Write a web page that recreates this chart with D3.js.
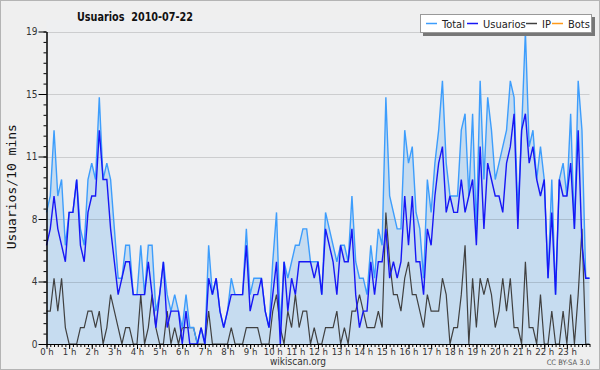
<!DOCTYPE html>
<html>
<head>
<meta charset="utf-8">
<script src="https://cdn.jsdelivr.net/npm/d3@7"></script>
<style>
  body { margin: 0; background: #efefef; }
  svg { display: block; }
  text { font-family: "DejaVu Sans Condensed", "DejaVu Sans", sans-serif; font-stretch: condensed; }
</style>
</head>
<body>
<div id="chart"></div>
<script>
// users per 10 minutes, 2010-07-22, 145 samples (00:00 .. 24:00)
const usuarios = [6,7,9,7,6,5,8,8,10,6,5,8,9,9,13,10,10,7,5,3,4,5,5,3,3,3,3,5,3,1,
  3,5,1,2,2,2,0,2,0,0,0,1,0,4,3,4,2,1,2,3,3,3,3,6,2,3,3,4,2,1,
  3,5,0,5,2,4,3,5,5,5,5,4,5,3,7,6,5,3,6,5,5,7,3,1,2,2,5,3,5,5,
  7,4,5,4,5,9,6,9,5,5,3,7,6,9,11,12,8,9,8,8,10,8,9,10,6,12,7,11,10,9,
  9,8,11,12,14,7,13,14,11,12,10,9,10,4,8,3,10,9,9,11,7,13,6,4,4];
const ip = [2,2,4,2,4,1,0,0,0,1,1,2,2,1,2,0,1,3,2,1,0,1,1,0,0,3,0,1,3,1,
  0,0,2,0,1,0,1,1,1,1,0,0,0,2,0,0,0,0,0,1,0,0,0,1,1,1,1,0,0,0,
  2,3,1,0,2,1,3,1,2,2,0,1,0,0,1,1,1,2,0,1,0,2,2,3,2,1,1,1,2,1,
  8,5,3,3,2,4,5,3,3,2,1,3,2,2,2,4,3,0,1,1,3,6,0,4,1,4,3,4,3,1,
  2,4,2,4,1,1,0,5,1,1,0,3,0,0,2,0,0,2,0,3,0,3,7,0,0];
const total = [8,9,13,9,10,6,8,8,10,7,6,10,11,10,15,10,11,10,7,4,4,6,6,3,3,6,3,6,6,2,
  3,5,3,2,3,2,1,3,1,1,0,1,0,6,3,4,2,1,2,4,3,3,3,7,3,4,4,4,2,1,
  5,8,1,5,4,5,6,6,7,7,5,5,5,3,8,7,6,5,6,6,5,9,5,4,4,3,6,4,7,6,
  15,9,8,7,7,13,11,12,8,7,4,10,8,11,13,16,11,9,9,9,13,14,9,14,7,16,10,15,13,10,
  11,12,13,16,15,8,13,19,12,13,10,12,10,4,10,3,10,11,9,14,7,16,13,4,4];

const hourLabels = d3.range(24).map(h => `${h} h`);
const yTicks = [0, 3.8, 7.6, 11.4, 15.2, 19];
const yTickLabels = ["0", "4", "8", "11", "15", "19"];
const legendNames = ["Total", "Usuarios", "IP", "Bots"];
const legendColors = ["#3d9dfc", "#1717f5", "#404040", "#ff9a1a"];

const width = 600, height = 370;
const plotLeft = 46.5, plotRight = 589.5, plotTop = 31.5, plotBottom = 344;

const x = d3.scaleLinear().domain([0, 144]).range([plotLeft, plotRight]);
const y = d3.scaleLinear().domain([0, 19]).range([plotBottom, plotTop]);

const svg = d3.select("#chart").append("svg")
  .attr("width", width)
  .attr("height", height);

// frame
svg.append("rect")
  .attr("x", 0.5).attr("y", 0.5)
  .attr("width", width - 1).attr("height", height - 1)
  .attr("fill", "#efefef")
  .attr("stroke", "#b4b4b4");

// plot background
svg.append("rect")
  .attr("x", plotLeft).attr("y", 20)
  .attr("width", plotRight - plotLeft).attr("height", plotBottom - 20)
  .attr("fill", "#eeeff1");

// area under total
svg.append("path")
  .datum(total)
  .attr("fill", "#c6dcf0")
  .attr("d", d3.area().x((d, i) => x(i)).y0(y(0)).y1(d => y(d)));

// grid
svg.append("g")
  .selectAll("line")
  .data(yTicks.slice(1))
  .join("line")
  .attr("x1", plotLeft).attr("x2", plotRight)
  .attr("y1", d => Math.round(y(d)) + 0.5)
  .attr("y2", d => Math.round(y(d)) + 0.5)
  .attr("stroke", "rgba(0,0,0,0.14)");

// lines
const line = d3.line().x((d, i) => x(i)).y(d => y(d));
svg.append("path").datum(ip)
  .attr("fill", "none").attr("stroke", legendColors[2]).attr("stroke-width", 1.2)
  .attr("d", line);
svg.append("path").datum(total)
  .attr("fill", "none").attr("stroke", legendColors[0]).attr("stroke-width", 1.4)
  .attr("d", line);
svg.append("path").datum(usuarios)
  .attr("fill", "none").attr("stroke", legendColors[1]).attr("stroke-width", 1.4)
  .attr("d", line);

// y axis
const yAxis = svg.append("g")
  .attr("transform", `translate(${plotLeft},0)`)
  .call(d3.axisLeft(y).tickValues(yTicks).tickFormat((d, i) => yTickLabels[i])
    .tickSize(8).tickSizeOuter(0).tickPadding(1));
svg.append("g")
  .attr("transform", `translate(${plotLeft},0)`)
  .call(d3.axisLeft(y).tickValues(d3.range(31).map(k => k * 19 / 30))
    .tickFormat("").tickSize(3).tickSizeOuter(0));

// x axis
const xAxis = svg.append("g")
  .attr("transform", `translate(0,${plotBottom})`)
  .call(d3.axisBottom(x).tickValues(d3.range(0, 144, 6)).tickFormat((d, i) => hourLabels[i])
    .tickSize(5).tickSizeOuter(0).tickPadding(-1));
svg.append("g")
  .attr("transform", `translate(0,${plotBottom})`)
  .call(d3.axisBottom(x).tickValues(d3.range(145)).tickFormat("").tickSize(3).tickSizeOuter(0));

svg.selectAll(".domain").attr("stroke", "#000");
svg.selectAll(".tick line").attr("stroke", "#000");
svg.selectAll(".tick text")
  .attr("fill", "#333")
  .style("font-size", "10px");
yAxis.selectAll(".tick text").attr("dy", "0.32em");
xAxis.selectAll(".tick text").style("font-size", "9.5px");

// title
svg.append("text")
  .attr("x", 77).attr("y", 21)
  .attr("font-weight", "bold")
  .attr("textLength", 116)
  .attr("lengthAdjust", "spacingAndGlyphs")
  .style("font-size", "12.5px")
  .style("white-space", "pre")
  .attr("fill", "#111")
  .text("Usuarios  2010-07-22");

// y label
svg.append("text")
  .attr("transform", `translate(16,${(plotTop + plotBottom) / 2 - 1}) rotate(-90)`)
  .attr("text-anchor", "middle")
  .style("font-family", "'DejaVu Sans Mono', monospace")
  .style("font-size", "13px")
  .attr("fill", "#111")
  .text("Usuarios/10 mins");

// footer
svg.append("text")
  .attr("x", 298).attr("y", 365)
  .attr("text-anchor", "middle")
  .style("font-size", "10px")
  .attr("fill", "#333")
  .text("wikiscan.org");
svg.append("text")
  .attr("x", 590).attr("y", 365)
  .attr("text-anchor", "end")
  .style("font-size", "7.5px")
  .attr("fill", "#555")
  .text("CC BY-SA 3.0");

// legend
const legend = svg.append("g").attr("transform", "translate(420,14)");
legend.append("rect")
  .attr("x", 3).attr("y", 3).attr("width", 172).attr("height", 19)
  .attr("fill", "#777");
legend.append("rect")
  .attr("x", 0.5).attr("y", 0.5).attr("width", 171).attr("height", 18)
  .attr("fill", "#fff").attr("stroke", "#999");
const offsets = [6, 47, 106, 132];
const items = legend.selectAll("g.item")
  .data(legendNames)
  .join("g")
  .attr("transform", (d, i) => `translate(${offsets[i]},0)`);
items.append("line")
  .attr("x1", 0).attr("x2", 11).attr("y1", 9.5).attr("y2", 9.5)
  .attr("stroke", (d, i) => legendColors[i]).attr("stroke-width", 1.5);
items.append("text")
  .attr("x", 16).attr("y", 13.5)
  .style("font-size", "11px")
  .attr("fill", "#222")
  .text(d => d);
</script>
</body>
</html>
